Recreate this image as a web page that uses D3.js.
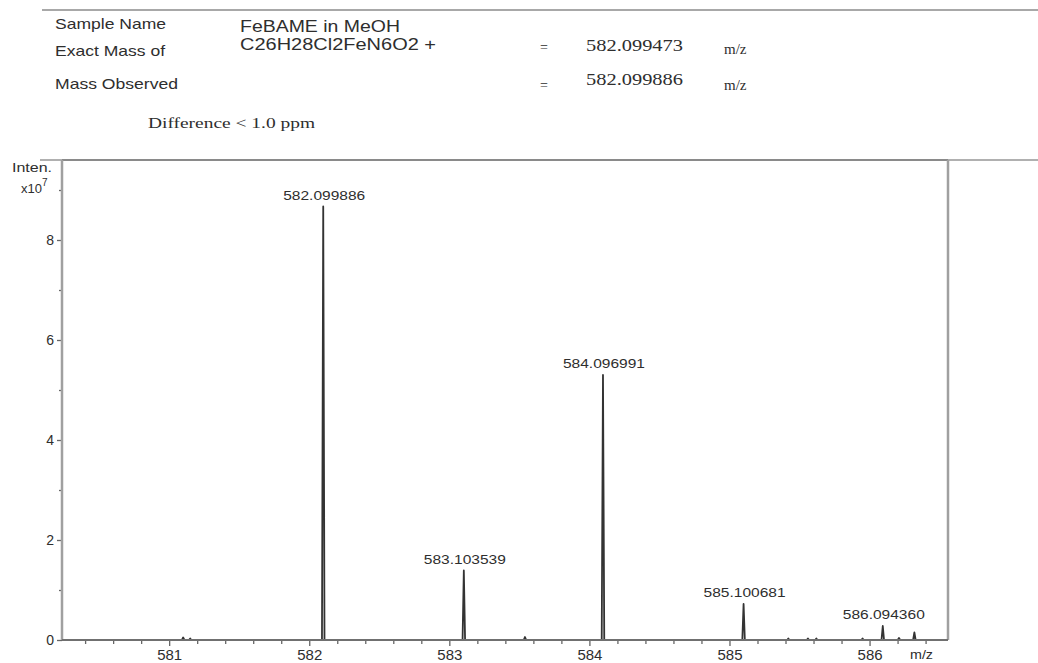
<!DOCTYPE html>
<html>
<head>
<meta charset="utf-8">
<script src="https://cdn.jsdelivr.net/npm/d3@7"></script>
<style>
  body { margin: 0; background: #fff; }
  svg { display: block; }
</style>
</head>
<body>
<svg id="chart" width="1038" height="663"></svg>
<script>
// Header information
const headerLabels = ["Sample Name", "Exact Mass of", "Mass Observed"];
const headerValues = ["FeBAME in MeOH", "C26H28Cl2FeN6O2  +"];
const massValues = ["582.099473", "582.099886"];
const differenceNote = "Difference < 1.0 ppm";

// Spectrum: labelled isotope peaks (m/z, intensity x10^7)
const peakMz = [582.099886, 583.103539, 584.096991, 585.100681, 586.094360];
const peakIntensity = [8.67, 1.39, 5.30, 0.72, 0.28];
const peakLabels = ["582.099886", "583.103539", "584.096991", "585.100681", "586.094360"];

// Minor unlabelled signals
const minorMz = [581.10, 581.15, 583.54, 585.42, 585.56, 585.62, 585.95, 586.21, 586.32];
const minorIntensity = [0.05, 0.03, 0.06, 0.03, 0.03, 0.03, 0.03, 0.04, 0.15];

// Axis ticks
const xMajorTicks = [581, 582, 583, 584, 585, 586];
const yMajorTicks = [0, 2, 4, 6, 8];
const yMinorTicks = [1, 3, 5, 7, 9];

const SANS = "'Liberation Sans', Arial, sans-serif";
const SERIF = "'Liberation Serif', 'Times New Roman', serif";

const svg = d3.select("#chart");
const textColor = "#2e2e2e";

// Page header rule
svg.append("line").attr("x1", 42).attr("x2", 1038).attr("y1", 10).attr("y2", 10)
  .attr("stroke", "#a8a8a8").attr("stroke-width", 2);

// Header text block
const hdr = svg.append("g").attr("font-family", SANS).attr("fill", textColor);
const labelY = [29, 56, 89];
const labelW = [111, 110, 123];
headerLabels.forEach((t, i) => {
  hdr.append("text").attr("x", 55).attr("y", labelY[i]).attr("font-size", 15)
    .attr("textLength", labelW[i]).attr("lengthAdjust", "spacingAndGlyphs").text(t);
});
hdr.append("text").attr("x", 240).attr("y", 32).attr("font-size", 17)
  .attr("textLength", 160).attr("lengthAdjust", "spacingAndGlyphs").text(headerValues[0]);
hdr.append("text").attr("x", 240).attr("y", 50).attr("font-size", 17)
  .attr("textLength", 196).attr("lengthAdjust", "spacingAndGlyphs").text(headerValues[1]);

const ser = svg.append("g").attr("fill", textColor);
[52, 90].forEach((yy) => {
  ser.append("text").attr("font-family", SERIF).attr("x", 540).attr("y", yy)
    .attr("font-size", 14).text("=");
});
massValues.forEach((t, i) => {
  ser.append("text").attr("font-family", SERIF).attr("x", 586).attr("y", [51, 85][i])
    .attr("font-size", 17).attr("textLength", 97).attr("lengthAdjust", "spacingAndGlyphs").text(t);
  ser.append("text").attr("font-family", SERIF).attr("x", 724).attr("y", [54, 90][i])
    .attr("font-size", 15).text("m/z");
});
ser.append("text").attr("font-family", SERIF).attr("x", 148).attr("y", 128).attr("font-size", 15)
  .attr("textLength", 167).attr("lengthAdjust", "spacingAndGlyphs").text(differenceNote);

// Plot area
const plotLeft = 62, plotRight = 948, plotTop = 160, plotBottom = 640;
const x = d3.scaleLinear().domain([580.235, 586.56]).range([plotLeft, plotRight]);
const y = d3.scaleLinear().domain([0, 9.6]).range([plotBottom, plotTop]);

// Frame: extended top rule, right edge
svg.append("line").attr("x1", 40).attr("x2", 1038).attr("y1", plotTop).attr("y2", plotTop)
  .attr("stroke", "#b0b0b0").attr("stroke-width", 2);
svg.append("line").attr("x1", plotLeft).attr("x2", plotRight).attr("y1", plotTop).attr("y2", plotTop)
  .attr("stroke", "#8a8a8a").attr("stroke-width", 2);
svg.append("line").attr("x1", plotRight).attr("x2", plotRight).attr("y1", plotTop).attr("y2", plotBottom)
  .attr("stroke", "#a0a0a0").attr("stroke-width", 2.5);

// X axis: minor ticks every 0.2, labelled integers
const xMinorTicks = d3.range(580.4, 586.5, 0.2)
  .filter(v => Math.abs(v - Math.round(v)) > 0.05 && v < x.domain()[1]);
const xMinor = svg.append("g").attr("transform", `translate(0,${plotBottom})`)
  .call(d3.axisBottom(x).tickValues(xMinorTicks).tickSize(4).tickFormat(""));
const xAxis = svg.append("g").attr("transform", `translate(0,${plotBottom})`)
  .call(d3.axisBottom(x).tickValues(xMajorTicks).tickSize(6).tickPadding(4).tickFormat(d3.format("d")));
[xMinor, xAxis].forEach(g => {
  g.select(".domain").remove();
  g.selectAll(".tick line").attr("stroke", "#666").attr("stroke-width", 1.3);
});
xAxis.selectAll("text").attr("font-family", SANS).attr("font-size", 14).attr("fill", textColor)
  .attr("textLength", 25).attr("lengthAdjust", "spacingAndGlyphs");

// Y axis
const yMinor = svg.append("g").attr("transform", `translate(${plotLeft},0)`)
  .call(d3.axisLeft(y).tickValues(yMinorTicks).tickSize(3).tickFormat(""));
const yAxis = svg.append("g").attr("transform", `translate(${plotLeft},0)`)
  .call(d3.axisLeft(y).tickValues(yMajorTicks).tickSize(5).tickPadding(3).tickFormat(d3.format("d")));
[yMinor, yAxis].forEach(g => {
  g.select(".domain").remove();
  g.selectAll(".tick line").attr("stroke", "#666").attr("stroke-width", 1.3);
});
yAxis.selectAll("text").attr("font-family", SANS).attr("font-size", 14).attr("fill", textColor);

// Axis lines
svg.append("line").attr("x1", plotLeft).attr("x2", plotLeft).attr("y1", plotTop).attr("y2", plotBottom)
  .attr("stroke", "#a0a0a0").attr("stroke-width", 2.5);

// Spectrum trace: baseline with each signal drawn as a narrow profile
const halfWidth = 0.009;
const signals = peakMz.map((m, i) => ({ mz: m, h: peakIntensity[i] }))
  .concat(minorMz.map((m, i) => ({ mz: m, h: minorIntensity[i] })))
  .sort((a, b) => a.mz - b.mz);
const trace = [[x.domain()[0], 0]];
signals.forEach(s => {
  trace.push([s.mz - halfWidth, 0], [s.mz, s.h], [s.mz + halfWidth, 0]);
});
trace.push([x.domain()[1], 0]);
const line = d3.line().x(d => x(d[0])).y(d => y(d[1]));
svg.append("path").datum(trace).attr("d", line)
  .attr("fill", "none").attr("stroke", "#333").attr("stroke-width", 1.8)
  .attr("stroke-linejoin", "round");

// Bottom axis line drawn over the baseline
svg.append("line").attr("x1", plotLeft).attr("x2", plotRight).attr("y1", plotBottom).attr("y2", plotBottom)
  .attr("stroke", "#707070").attr("stroke-width", 2);

// Peak labels
svg.append("g").attr("font-family", SANS).attr("fill", textColor)
  .selectAll("text").data(peakMz).join("text")
  .attr("x", (d, i) => x(d) + 1)
  .attr("y", (d, i) => y(peakIntensity[i]) - 7)
  .attr("text-anchor", "middle").attr("font-size", 13)
  .attr("textLength", 82).attr("lengthAdjust", "spacingAndGlyphs")
  .text((d, i) => peakLabels[i]);

// Axis titles
const ttl = svg.append("g").attr("font-family", SANS).attr("fill", textColor);
ttl.append("text").attr("x", 12).attr("y", 172).attr("font-size", 12)
  .attr("textLength", 40).attr("lengthAdjust", "spacingAndGlyphs").text("Inten.");
const pow = ttl.append("text").attr("x", 21).attr("y", 193).attr("font-size", 13);
pow.append("tspan").text("x10");
pow.append("tspan").attr("dy", -7).attr("font-size", 10).text("7");
ttl.append("text").attr("x", 910).attr("y", 659).attr("font-size", 13)
  .attr("textLength", 23).attr("lengthAdjust", "spacingAndGlyphs").text("m/z");
</script>
</body>
</html>
